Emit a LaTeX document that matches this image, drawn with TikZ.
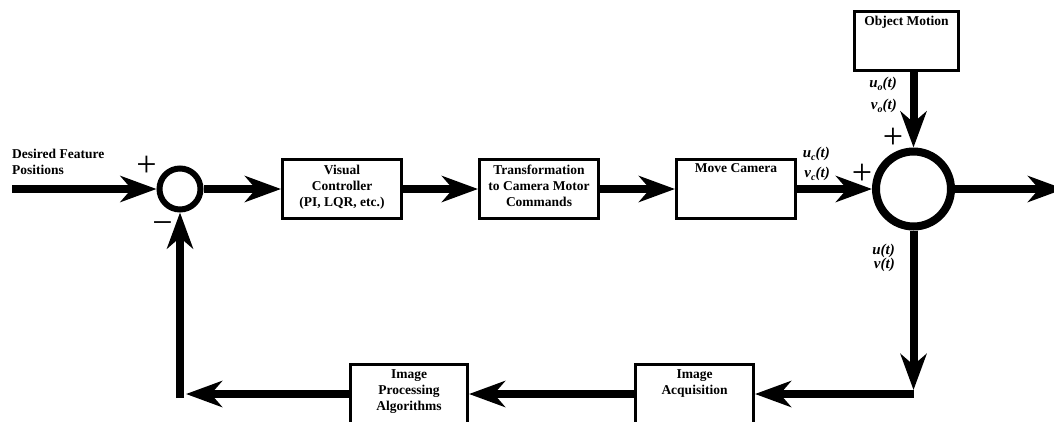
\documentclass[tikz,border=0pt]{standalone}
\usepackage{fontspec}
\setmainfont{Liberation Serif}
\usetikzlibrary{arrows.meta}
\newcommand{\sigl}[2]{\textbf{\textit{#1}}\raisebox{-3pt}{\fontsize{10}{10}\selectfont\textbf{\textit{#2}}}\textbf{\textit{(t)}}}
\begin{document}
\begin{tikzpicture}[x=1pt,y=-1pt,
  blk/.style={draw, line width=3pt, minimum height=59pt, inner sep=0pt},
  blktxt/.style={anchor=north, inner sep=0pt, align=center, font=\fontsize{13.5}{16}\selectfont\bfseries},
  sumj/.style={draw, circle, inner sep=0pt},
  arr/.style={line width=8pt, -{Stealth[length=36pt,width=26pt,inset=11pt]}},
  sgn/.style={inner sep=0pt, font=\fontsize{36}{36}\selectfont},
  sig/.style={inner sep=0pt, font=\fontsize{15}{16}\selectfont},
  lbl/.style={inner sep=0pt, align=left, anchor=north west, font=\fontsize{13.5}{16}\selectfont\bfseries}
]
\useasboundingbox (0,0) rectangle (1054,421);
\clip (0,0) rectangle (1054,421);

% summing junctions
\node[sumj, line width=6pt, minimum size=41pt] (c1) at (180,189) {};
\node[sumj, line width=8pt, minimum size=75pt] (c2) at (913.5,189) {};

% blocks
\node[blk, minimum width=119pt] (vc) at (342,189) {};
\node[blktxt] at ([yshift=-7pt]vc.north) {Visual\\Controller\\(PI, LQR, etc.)};
\node[blk, minimum width=119pt] (tc) at (539,189) {};
\node[blktxt] at ([yshift=-7pt]tc.north) {Transformation\\to Camera Motor\\Commands};
\node[blk, minimum width=119pt] (mc) at (736,189) {};
\node[blktxt] at ([yshift=-5pt]mc.north) {Move Camera};
\node[blk, minimum width=104pt] (om) at (906.5,41) {};
\node[blktxt] at ([yshift=-6pt]om.north) {Object Motion};
\node[blk, minimum width=117pt] (ip) at (409,394) {};
\node[blktxt] at ([yshift=-6pt]ip.north) {Image\\Processing\\Algorithms};
\node[blk, minimum width=118pt] (ia) at (694.5,394) {};
\node[blktxt] at ([yshift=-6pt]ia.north) {Image\\Acquisition};

% input text
\node[lbl] (din) at (12,149) {Desired Feature\\Positions};

% coordinates
\coordinate (in) at (12,189);
\coordinate (out) at (1064,189);
\coordinate (rv) at (913.5,390);
\coordinate (rh) at (913.5,394);
\coordinate (lh) at (186,394);
\coordinate (lv) at (180,398);

% connectors
\draw[arr] (in) -- (c1.west);
\draw[arr] (c1.east) -- (vc.west);
\draw[arr] (vc.east) -- (tc.west);
\draw[arr] (tc.east) -- (mc.west);
\draw[arr] (mc.east |- c2.west) -- (c2.west);
\draw[arr] (c2.north |- om.south) -- (c2.north);
\draw[arr] (c2.east) -- (out);
\draw[arr] (c2.south) -- (rv);
\draw[arr] (rh) -- (ia.east);
\draw[arr] (ia.west) -- (ip.east);
\draw[arr] (ip.west) -- (lh);
\draw[arr] (lv) -- (c1.south);

% signs
\node[sgn] (p1) at (146.5,166) {+};
\node[sgn] (m1) at (162.5,224) {\vphantom{+}−};
\node[sgn] (p2) at (893,138) {+};
\node[sgn] (p3) at (862,174) {+};

% signal labels
\node[sig, anchor=base east] (uo) at (897,87) {\sigl{u}{o}};
\node[sig, anchor=base east] (vo) at (897,109) {\sigl{v}{o}};
\node[sig, anchor=base east] (uc) at (830,157) {\sigl{u}{c}};
\node[sig, anchor=base east] (vc2) at (830,177) {\sigl{v}{c}};
\node[sig, anchor=base east] (u) at (895,254) {\textbf{\textit{u(t)}}};
\node[sig, anchor=base east] (v) at (895,268) {\textbf{\textit{v(t)}}};
\end{tikzpicture}
\end{document}
